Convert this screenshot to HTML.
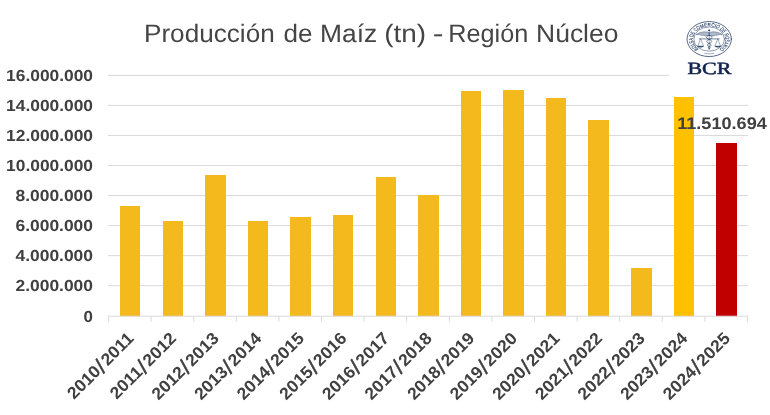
<!DOCTYPE html>
<html lang="es"><head><meta charset="utf-8"><title>Producción de Maíz (tn) - Región Núcleo</title>
<style>html,body{margin:0;padding:0;background:#fff;}body{width:770px;height:415px;overflow:hidden;}svg{display:block;}text{font-family:"Liberation Sans",sans-serif;text-rendering:geometricPrecision;}.b{font-weight:bold;fill:#404040;font-size:16px;}.serif{font-family:"Liberation Serif",serif;}</style></head><body>
<svg width="770" height="415" viewBox="0 0 770 415">
<rect width="770" height="415" fill="#fff"/>
<g stroke="#D9D9D9" stroke-width="1" fill="none">
<line x1="108.0" y1="285.70" x2="748.0" y2="285.70"/>
<line x1="108.0" y1="255.65" x2="748.0" y2="255.65"/>
<line x1="108.0" y1="225.60" x2="748.0" y2="225.60"/>
<line x1="108.0" y1="195.55" x2="748.0" y2="195.55"/>
<line x1="108.0" y1="165.50" x2="748.0" y2="165.50"/>
<line x1="108.0" y1="135.45" x2="748.0" y2="135.45"/>
<line x1="108.0" y1="105.40" x2="748.0" y2="105.40"/>
<line x1="108.0" y1="75.35" x2="748.0" y2="75.35"/>
</g>
<g>
<rect x="120" y="206" width="20" height="110.2" fill="#F4B91C"/>
<rect x="163" y="221" width="20" height="95.2" fill="#F4B91C"/>
<rect x="205" y="175" width="21" height="141.2" fill="#F4B91C"/>
<rect x="248" y="221" width="20" height="95.2" fill="#F4B91C"/>
<rect x="290" y="217" width="21" height="99.2" fill="#F4B91C"/>
<rect x="333" y="215" width="20" height="101.2" fill="#F4B91C"/>
<rect x="376" y="177" width="20" height="139.2" fill="#F4B91C"/>
<rect x="418" y="195" width="21" height="121.2" fill="#F4B91C"/>
<rect x="461" y="91" width="20" height="225.2" fill="#F4B91C"/>
<rect x="503" y="90" width="21" height="226.2" fill="#F4B91C"/>
<rect x="546" y="98" width="20" height="218.2" fill="#F4B91C"/>
<rect x="588" y="120" width="21" height="196.2" fill="#F4B91C"/>
<rect x="631" y="268" width="21" height="48.2" fill="#F4B91C"/>
<rect x="674" y="97" width="20" height="219.2" fill="#FFC000"/>
<rect x="716" y="143" width="21" height="173.2" fill="#C00000"/>
</g>
<g stroke="#D9D9D9" stroke-width="1" fill="none">
<line x1="108.0" y1="316.20" x2="748.0" y2="316.20"/>
<line x1="108.50" y1="316.20" x2="108.50" y2="321.70"/>
<line x1="151.10" y1="316.20" x2="151.10" y2="321.70"/>
<line x1="193.70" y1="316.20" x2="193.70" y2="321.70"/>
<line x1="236.30" y1="316.20" x2="236.30" y2="321.70"/>
<line x1="278.90" y1="316.20" x2="278.90" y2="321.70"/>
<line x1="321.50" y1="316.20" x2="321.50" y2="321.70"/>
<line x1="364.10" y1="316.20" x2="364.10" y2="321.70"/>
<line x1="406.70" y1="316.20" x2="406.70" y2="321.70"/>
<line x1="449.30" y1="316.20" x2="449.30" y2="321.70"/>
<line x1="491.90" y1="316.20" x2="491.90" y2="321.70"/>
<line x1="534.50" y1="316.20" x2="534.50" y2="321.70"/>
<line x1="577.10" y1="316.20" x2="577.10" y2="321.70"/>
<line x1="619.70" y1="316.20" x2="619.70" y2="321.70"/>
<line x1="662.30" y1="316.20" x2="662.30" y2="321.70"/>
<line x1="704.90" y1="316.20" x2="704.90" y2="321.70"/>
<line x1="747.50" y1="316.20" x2="747.50" y2="321.70"/>
</g>
<g class="b" text-anchor="end">
<text x="93.0" y="322" textLength="9.4" lengthAdjust="spacingAndGlyphs">0</text>
<text x="93.0" y="291" textLength="77.5" lengthAdjust="spacingAndGlyphs">2.000.000</text>
<text x="93.0" y="261" textLength="77.5" lengthAdjust="spacingAndGlyphs">4.000.000</text>
<text x="93.0" y="231" textLength="77.5" lengthAdjust="spacingAndGlyphs">6.000.000</text>
<text x="93.0" y="201" textLength="77.5" lengthAdjust="spacingAndGlyphs">8.000.000</text>
<text x="93.0" y="171" textLength="86.9" lengthAdjust="spacingAndGlyphs">10.000.000</text>
<text x="93.0" y="141" textLength="86.9" lengthAdjust="spacingAndGlyphs">12.000.000</text>
<text x="93.0" y="111" textLength="86.9" lengthAdjust="spacingAndGlyphs">14.000.000</text>
<text x="93.0" y="81" textLength="86.9" lengthAdjust="spacingAndGlyphs">16.000.000</text>
</g>
<g class="b" text-anchor="end" style="font-size:17.0px">
<text transform="translate(134.70 339.40) rotate(-45) scale(1.037 1)">2010<tspan font-size="21.5" font-weight="normal" stroke="#404040" stroke-width="0.5" dx="0.3" dy="2.2">/</tspan><tspan dx="1.7" dy="-2.2">2011</tspan></text>
<text transform="translate(177.30 339.40) rotate(-45) scale(1.037 1)">2011<tspan font-size="21.5" font-weight="normal" stroke="#404040" stroke-width="0.5" dx="0.3" dy="2.2">/</tspan><tspan dx="1.7" dy="-2.2">2012</tspan></text>
<text transform="translate(219.90 339.40) rotate(-45) scale(1.037 1)">2012<tspan font-size="21.5" font-weight="normal" stroke="#404040" stroke-width="0.5" dx="0.3" dy="2.2">/</tspan><tspan dx="1.7" dy="-2.2">2013</tspan></text>
<text transform="translate(262.50 339.40) rotate(-45) scale(1.037 1)">2013<tspan font-size="21.5" font-weight="normal" stroke="#404040" stroke-width="0.5" dx="0.3" dy="2.2">/</tspan><tspan dx="1.7" dy="-2.2">2014</tspan></text>
<text transform="translate(305.10 339.40) rotate(-45) scale(1.037 1)">2014<tspan font-size="21.5" font-weight="normal" stroke="#404040" stroke-width="0.5" dx="0.3" dy="2.2">/</tspan><tspan dx="1.7" dy="-2.2">2015</tspan></text>
<text transform="translate(347.70 339.40) rotate(-45) scale(1.037 1)">2015<tspan font-size="21.5" font-weight="normal" stroke="#404040" stroke-width="0.5" dx="0.3" dy="2.2">/</tspan><tspan dx="1.7" dy="-2.2">2016</tspan></text>
<text transform="translate(390.30 339.40) rotate(-45) scale(1.037 1)">2016<tspan font-size="21.5" font-weight="normal" stroke="#404040" stroke-width="0.5" dx="0.3" dy="2.2">/</tspan><tspan dx="1.7" dy="-2.2">2017</tspan></text>
<text transform="translate(432.90 339.40) rotate(-45) scale(1.037 1)">2017<tspan font-size="21.5" font-weight="normal" stroke="#404040" stroke-width="0.5" dx="0.3" dy="2.2">/</tspan><tspan dx="1.7" dy="-2.2">2018</tspan></text>
<text transform="translate(475.50 339.40) rotate(-45) scale(1.037 1)">2018<tspan font-size="21.5" font-weight="normal" stroke="#404040" stroke-width="0.5" dx="0.3" dy="2.2">/</tspan><tspan dx="1.7" dy="-2.2">2019</tspan></text>
<text transform="translate(518.10 339.40) rotate(-45) scale(1.037 1)">2019<tspan font-size="21.5" font-weight="normal" stroke="#404040" stroke-width="0.5" dx="0.3" dy="2.2">/</tspan><tspan dx="1.7" dy="-2.2">2020</tspan></text>
<text transform="translate(560.70 339.40) rotate(-45) scale(1.037 1)">2020<tspan font-size="21.5" font-weight="normal" stroke="#404040" stroke-width="0.5" dx="0.3" dy="2.2">/</tspan><tspan dx="1.7" dy="-2.2">2021</tspan></text>
<text transform="translate(603.30 339.40) rotate(-45) scale(1.037 1)">2021<tspan font-size="21.5" font-weight="normal" stroke="#404040" stroke-width="0.5" dx="0.3" dy="2.2">/</tspan><tspan dx="1.7" dy="-2.2">2022</tspan></text>
<text transform="translate(645.90 339.40) rotate(-45) scale(1.037 1)">2022<tspan font-size="21.5" font-weight="normal" stroke="#404040" stroke-width="0.5" dx="0.3" dy="2.2">/</tspan><tspan dx="1.7" dy="-2.2">2023</tspan></text>
<text transform="translate(688.50 339.40) rotate(-45) scale(1.037 1)">2023<tspan font-size="21.5" font-weight="normal" stroke="#404040" stroke-width="0.5" dx="0.3" dy="2.2">/</tspan><tspan dx="1.7" dy="-2.2">2024</tspan></text>
<text transform="translate(731.10 339.40) rotate(-45) scale(1.037 1)">2024<tspan font-size="21.5" font-weight="normal" stroke="#404040" stroke-width="0.5" dx="0.3" dy="2.2">/</tspan><tspan dx="1.7" dy="-2.2">2025</tspan></text>
</g>
<text class="b" style="font-size:16.8px" x="677.2" y="129" textLength="89.6" lengthAdjust="spacingAndGlyphs">11.510.694</text>
<text y="42.2" font-size="25.2" fill="#454545"><tspan x="144.0" textLength="130.7" lengthAdjust="spacingAndGlyphs">Producción</tspan> <tspan x="283.4" textLength="29.0" lengthAdjust="spacingAndGlyphs">de</tspan> <tspan x="320.0" textLength="57.2" lengthAdjust="spacingAndGlyphs">Maíz</tspan> <tspan x="384.2" textLength="41.9" lengthAdjust="spacingAndGlyphs">(tn)</tspan> <tspan x="432.8" textLength="10.8" lengthAdjust="spacingAndGlyphs">-</tspan> <tspan x="448.3" textLength="80.0" lengthAdjust="spacingAndGlyphs">Región</tspan> <tspan x="536.1" textLength="82.3" lengthAdjust="spacingAndGlyphs">Núcleo</tspan></text>
<g id="logo">
<rect x="669" y="12" width="82" height="68" fill="#fff"/>
<defs><path id="ring" d="M-8.20 9.77 A12.75 12.75 0 1 1 8.20 9.77"/></defs>
<g transform="translate(709.2 39.05) scale(1.266 1)" fill="none" stroke="#1F3864" stroke-linecap="round" stroke-linejoin="round">
<circle r="17.5" stroke-width="0.75" vector-effect="non-scaling-stroke"/>
<circle r="12.1" stroke-width="0.5" vector-effect="non-scaling-stroke"/>
<text font-size="4.7" fill="#1F3864" stroke="#1F3864" stroke-width="0.1"><textPath href="#ring" textLength="62.3" lengthAdjust="spacingAndGlyphs">BOLSA DE COMERCIO DE ROSARIO</textPath></text>
<!-- bottom ornament -->
<path d="M-3.6 14.4 Q0 15.3 3.6 14.4" stroke-width="0.4" vector-effect="non-scaling-stroke"/>
<!-- caduceus staff -->
<path d="M0 -8.6 V10.2" stroke-width="0.5" stroke-opacity="0.85" vector-effect="non-scaling-stroke"/>
<circle cx="0" cy="-8.8" r="0.85" fill="#1F3864" stroke="none"/>
<!-- snakes -->
<path d="M0 -3.6 C2.9 -2.8 2.9 -0.6 0 0.4 C-2.6 1.4 -2.6 3.4 0 4.4 C1.9 5.2 1.9 6.8 0 7.6 C-1.2 8.2 -1.2 9.2 0 9.8" stroke-width="0.6" vector-effect="non-scaling-stroke"/>
<path d="M0 -3.6 C-2.9 -2.8 -2.9 -0.6 0 0.4 C2.6 1.4 2.6 3.4 0 4.4 C-1.9 5.2 -1.9 6.8 0 7.6 C1.2 8.2 1.2 9.2 0 9.8" stroke-width="0.6" vector-effect="non-scaling-stroke"/>
<!-- wings -->
<path d="M0.4 -6.6 C3.2 -8 7.4 -7.2 10.4 -4.4 C8 -4.8 6.8 -4.4 6 -3.5 C4.9 -4 3.9 -3.8 3 -2.9 C2.1 -3.6 1.3 -3.8 0.4 -3.6 Z" fill="#1F3864" fill-opacity="0.35" stroke-width="0.4" vector-effect="non-scaling-stroke"/>
<path d="M-0.4 -6.6 C-3.2 -8 -7.4 -7.2 -10.4 -4.4 C-8 -4.8 -6.8 -4.4 -6 -3.5 C-4.9 -4 -3.9 -3.8 -3 -2.9 C-2.1 -3.6 -1.3 -3.8 -0.4 -3.6 Z" fill="#1F3864" fill-opacity="0.35" stroke-width="0.4" vector-effect="non-scaling-stroke"/>
<!-- balance beam -->
<path d="M-7.9 -0.15 H7.9" stroke-width="0.6" vector-effect="non-scaling-stroke"/>
<!-- left scale -->
<path d="M-6.95 -0.1 L-8.9 7.2 H-4.8 Z" stroke-width="0.4" vector-effect="non-scaling-stroke"/>
<path d="M-9.2 7.2 H-4.5 C-4.9 8.5 -8.8 8.5 -9.2 7.2 Z" fill="#1F3864" stroke-width="0.3" vector-effect="non-scaling-stroke"/>
<!-- right scale -->
<path d="M6.95 -0.1 L8.9 7.2 H4.8 Z" stroke-width="0.4" vector-effect="non-scaling-stroke"/>
<path d="M9.2 7.2 H4.5 C4.9 8.5 8.8 8.5 9.2 7.2 Z" fill="#1F3864" stroke-width="0.3" vector-effect="non-scaling-stroke"/>
</g>
<text class="serif" x="709.4" y="74" text-anchor="middle" font-size="17.1" fill="#13234D" stroke="#13234D" stroke-width="0.55" textLength="44" lengthAdjust="spacingAndGlyphs">BCR</text>
</g>
</svg></body></html>
